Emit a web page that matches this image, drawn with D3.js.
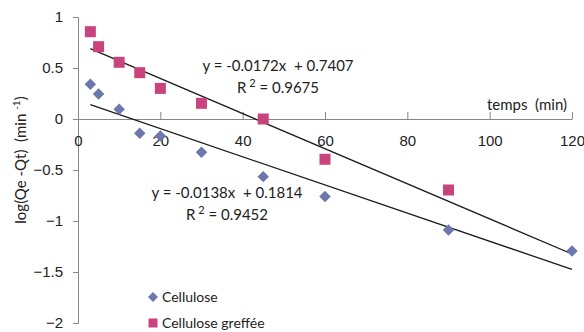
<!DOCTYPE html>
<html>
<head>
<meta charset="utf-8">
<script src="https://cdn.jsdelivr.net/npm/d3@7"></script>
<style>
  html, body { margin: 0; padding: 0; background: #fff; }
  svg { display: block; font-family: Lato, "Open Sans", sans-serif; }
</style>
</head>
<body>
<svg id="chart" width="584" height="332"></svg>
<script>
// Kinetic data: log(Qe - Qt) against contact time
const times = [3, 5, 10, 15, 20, 30, 45, 60, 90, 120];
const cellulose = [0.34, 0.245, 0.095, -0.14, -0.167, -0.325, -0.565, -0.76, -1.088, -1.294];
const greffeeTimes = [3, 5, 10, 15, 20, 30, 45, 60, 90];
const cellGreffee = [0.856, 0.709, 0.556, 0.454, 0.30, 0.154, 0.0, -0.395, -0.696];

// Linear fits (slope, intercept, R²) and the time span they cover
const fitCellulose = { slope: -0.0138, intercept: 0.1814, r2: 0.9452 };
const fitGreffee = { slope: -0.0172, intercept: 0.7407, r2: 0.9675 };
const fitSpan = [3, 120];

const xTicks = [0, 20, 40, 60, 80, 100, 120];
const yTicks = [-2, -1.5, -1, -0.5, 0, 0.5, 1];
const seriesNames = ["Cellulose", "Cellulose greffée"];

const colBlue = "#6c77ae";
const colPink = "#c9437c";
const axisCol = "#868686";
const textCol = "#222";

const svg = d3.select("#chart");
const x = d3.scaleLinear().domain([0, 120]).range([78, 572]);
const y = d3.scaleLinear().domain([-2, 1]).range([323, 17]);

// Y axis (ticks outside, to the left)
const yAxis = svg.append("g")
  .attr("transform", `translate(${x(0)},0)`)
  .call(d3.axisLeft(y).tickValues(yTicks).tickSize(5).tickPadding(10)
    .tickFormat(d3.format("")));
yAxis.select(".domain").attr("stroke", axisCol);
yAxis.selectAll(".tick line").attr("stroke", axisCol);
yAxis.selectAll(".tick text").attr("fill", textCol).style("font-size", "15px");

// X axis crossing at y = 0, ticks pointing up, labels below
const xAxis = svg.append("g")
  .attr("transform", `translate(0,${y(0)})`)
  .call(d3.axisBottom(x).tickValues(xTicks).tickSizeInner(-7).tickSizeOuter(0).tickPadding(16));
xAxis.select(".domain").attr("stroke", axisCol);
xAxis.selectAll(".tick line").attr("stroke", axisCol);
xAxis.selectAll(".tick text").attr("fill", textCol).style("font-size", "15px");

// Axis titles
svg.append("text")
  .attr("x", 567).attr("y", 110)
  .attr("text-anchor", "end")
  .attr("xml:space", "preserve")
  .attr("fill", textCol).style("font-size", "15px")
  .text("temps  (min)");

const yTitle = svg.append("text")
  .attr("transform", `translate(26,160) rotate(-90)`)
  .attr("text-anchor", "middle")
  .attr("xml:space", "preserve")
  .attr("fill", textCol).style("font-size", "15px");
yTitle.append("tspan").text("log(Qe -Qt)  (min ");
yTitle.append("tspan").attr("dy", -6).style("font-size", "10px").text("-1");
yTitle.append("tspan").attr("dy", 6).text(")");

// Trend lines from the fitted equations
function fitLine(fit) {
  return fitSpan.map(t => [x(t), y(fit.intercept + fit.slope * t)]);
}
[fitGreffee, fitCellulose].forEach(fit => {
  svg.append("path")
    .attr("d", d3.line()(fitLine(fit)))
    .attr("fill", "none")
    .attr("stroke", "#1a1a1a")
    .attr("stroke-width", 1.3);
});

// Markers
const diamond = d3.symbol().type(d3.symbolSquare).size(66);
svg.append("g").selectAll("path")
  .data(times.map((t, i) => [t, cellulose[i]]))
  .join("path")
  .attr("d", diamond)
  .attr("transform", d => `translate(${x(d[0])},${y(d[1])}) rotate(45)`)
  .attr("fill", colBlue);

svg.append("g").selectAll("rect")
  .data(greffeeTimes.map((t, i) => [t, cellGreffee[i]]))
  .join("rect")
  .attr("x", d => x(d[0]) - 5.5)
  .attr("y", d => y(d[1]) - 5.5)
  .attr("width", 11).attr("height", 11)
  .attr("fill", colPink);

// Fit equation labels
function eqLabel(fit, cx, cy) {
  const sign = fit.intercept >= 0 ? "+" : "-";
  svg.append("text")
    .attr("x", cx).attr("y", cy)
    .attr("text-anchor", "middle").attr("fill", textCol).style("font-size", "15px")
    .attr("xml:space", "preserve")
    .text(`y = ${fit.slope.toFixed(4)}x  ${sign} ${Math.abs(fit.intercept).toFixed(4)}`);
  const r = svg.append("text")
    .attr("x", cx).attr("y", cy + 22)
    .attr("text-anchor", "middle").attr("fill", textCol).style("font-size", "15px")
    .attr("xml:space", "preserve");
  r.append("tspan").text("R");
  r.append("tspan").attr("dy", -6).style("font-size", "11px").text(" 2");
  r.append("tspan").attr("dy", 6).text(` = ${fit.r2.toFixed(4)}`);
}
eqLabel(fitGreffee, 278, 71);
eqLabel(fitCellulose, 227, 198);

// Legend
const legend = svg.append("g");
legend.append("path")
  .attr("d", d3.symbol().type(d3.symbolSquare).size(50))
  .attr("transform", "translate(153,297) rotate(45)")
  .attr("fill", colBlue);
legend.append("rect")
  .attr("x", 148.5).attr("y", 318.5).attr("width", 9).attr("height", 9)
  .attr("fill", colPink);
legend.selectAll("text")
  .data(seriesNames)
  .join("text")
  .attr("x", 162)
  .attr("y", (d, i) => 302 + i * 26)
  .attr("fill", textCol).style("font-size", "14px")
  .text(d => d);
</script>
</body>
</html>
